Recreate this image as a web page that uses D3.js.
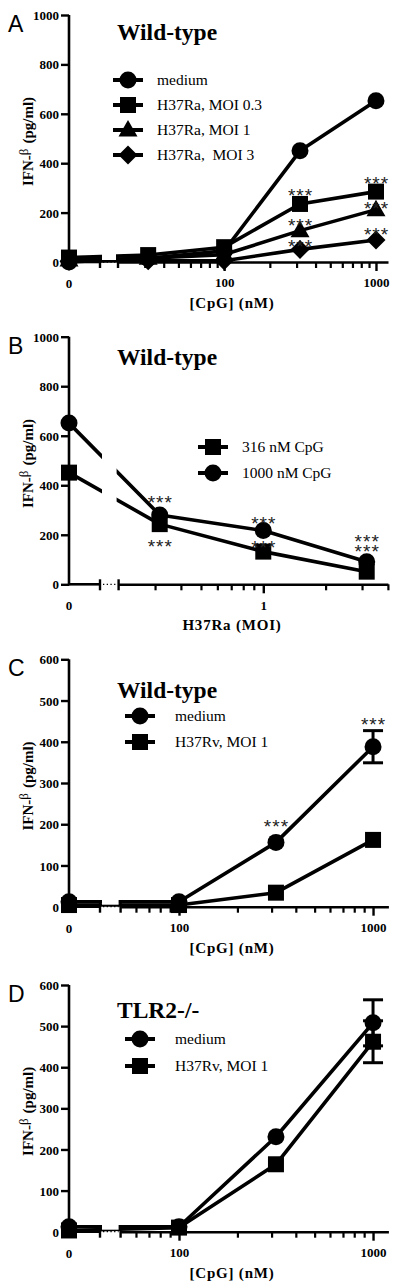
<!DOCTYPE html>
<html><head><meta charset="utf-8">
<script src="https://cdn.jsdelivr.net/npm/d3@7"></script>
<style>
html,body{margin:0;padding:0;background:#fff;}
svg{display:block;}
</style></head>
<body>
<svg id="chart" width="400" height="1288"></svg>
<script>
// ---------- DATA ----------
// Panel A: IFN-beta vs CpG (nM), wild-type, H37Ra at several MOI
const aX = [0, 31.6, 100, 316, 1000];
const aMedium = [0, 15, 45, 450, 653];
const aMoi03 = [18, 28, 60, 235, 285];
const aMoi1 = [8, 15, 30, 127, 212];
const aMoi3 = [3, 5, 5, 51, 89];
const aStarX = [316, 1000, 316, 1000, 316, 1000];
const aStarY = [287, 338, 166, 236, 81, 130];
const aLegend = ["medium", "H37Ra, MOI 0.3", "H37Ra, MOI 1", "H37Ra,  MOI 3"];

// Panel B: IFN-beta vs H37Ra MOI
const bX = [0, 0.316, 1, 3.16];
const b316 = [451, 243, 132, 51];
const b1000 = [651, 280, 217, 91];
const bStarX = [0.316, 0.316, 1, 1, 3.16];
const bStarY = [350, 172, 264, 165, 193];
const bStarRows = [1, 1, 1, 1, 2];
const bLegend = ["316 nM CpG", "1000 nM CpG"];

// Panel C: wild-type, H37Rv
const cX = [0, 100, 316, 1000];
const cMedium = [12, 12, 156, 388];
const cMediumErr = [0, 0, 0, 39];
const cRv = [4, 4, 34, 162];
const cRvErr = [0, 0, 0, 0];
const cStarX = [316, 1000];
const cStarY = [205, 453];

// Panel D: TLR2-/-, H37Rv
const dX = [0, 100, 316, 1000];
const dMedium = [12, 12, 231, 508];
const dMediumErr = [0, 0, 0, 56];
const dRv = [3, 10, 164, 462];
const dRvErr = [0, 0, 0, 51];
const cdLegend = ["medium", "H37Rv, MOI 1"];

const yTicksA = [0, 200, 400, 600, 800, 1000];
const yTicksC = [0, 100, 200, 300, 400, 500, 600];

// ---------- DRAWING ----------
const svg = d3.select("#chart");
const SERIF = "'Liberation Serif','Times New Roman',serif";
const SANS = "'Liberation Sans',Arial,sans-serif";
const AXIS_X = 69;

function markerPath(shape) {
  if (shape === "circle") return d3.symbol(d3.symbolCircle, Math.PI * 8.5 * 8.5)();
  if (shape === "square") return "M-8,-8H8V8H-8Z";
  if (shape === "triangle") return "M0,-10L9.5,6.5L-9.5,6.5Z";
  if (shape === "diamond") return "M0,-9.5L9.5,0L0,9.5L-9.5,0Z";
}

function panel(cfg, idx) {
  const g = svg.append("g");
  const y = d3.scaleLinear().domain(cfg.yDomain).range([cfg.y0, cfg.yTop]);
  const xLin = d3.scaleLinear().domain([0, 1]).range([AXIS_X, 100]);
  const xLog = d3.scaleLog().domain(cfg.logDomain).range(cfg.logRange);
  const xp = v => v === 0 ? xLin(0) : xLog(v);

  // mask to break lines at the axis break
  const maskId = "gap" + idx;
  const mask = svg.append("defs").append("mask").attr("id", maskId)
    .attr("maskUnits", "userSpaceOnUse").attr("x", 0).attr("y", 0).attr("width", 400).attr("height", 1288);
  mask.append("rect").attr("x", 0).attr("y", 0).attr("width", 400).attr("height", 1288).attr("fill", "#fff");
  mask.append("rect").attr("x", 102).attr("y", cfg.yTop - 20).attr("width", xLog.range()[0] - 104)
    .attr("height", cfg.y0 - cfg.yTop + 18).attr("fill", "#000");

  // lines
  const line = d3.line().x(d => xp(d.x)).y(d => y(d.y));
  const lg = g.append("g").attr("mask", `url(#${maskId})`);
  cfg.series.forEach(s => {
    const pts = cfg.x.map((xv, i) => ({ x: xv, y: s.values[i] }));
    lg.append("path").attr("d", line(pts)).attr("fill", "none")
      .attr("stroke", "#000").attr("stroke-width", 3.6).attr("stroke-linejoin", "round");
  });

  // error bars
  cfg.series.forEach(s => {
    if (!s.err) return;
    cfg.x.forEach((xv, i) => {
      const e = s.err[i];
      if (!e) return;
      const cx = xp(xv);
      g.append("line").attr("x1", cx).attr("x2", cx).attr("y1", y(s.values[i] - e)).attr("y2", y(s.values[i] + e))
        .attr("stroke", "#000").attr("stroke-width", 3);
      [s.values[i] - e, s.values[i] + e].forEach(v => {
        g.append("line").attr("x1", cx - 10).attr("x2", cx + 10).attr("y1", y(v)).attr("y2", y(v))
          .attr("stroke", "#000").attr("stroke-width", 3);
      });
    });
  });

  // markers (drawn in reverse so first series is on top)
  cfg.series.slice().reverse().forEach(s => {
    cfg.x.forEach((xv, i) => {
      g.append("path").attr("d", markerPath(s.shape))
        .attr("transform", `translate(${xp(xv)},${y(s.values[i])})`).attr("fill", "#000");
    });
  });

  // stars
  cfg.starX.forEach((sx, i) => {
    const rows = cfg.starRows ? cfg.starRows[i] : 1;
    const t = g.append("text").attr("x", xp(sx)).attr("y", y(cfg.starY[i]) + 11)
      .attr("text-anchor", "middle").attr("font-family", SANS).attr("font-size", 19)
      .attr("letter-spacing", 1).attr("fill", "#222");
    for (let r = 0; r < rows; r++) {
      t.append("tspan").attr("x", xp(sx) + 0.5).attr("dy", r === 0 ? 0 : 10).text("***");
    }
  });

  // y axis
  const yAxis = d3.axisLeft(y).tickValues(cfg.yTicks).tickSize(8).tickSizeOuter(0).tickPadding(2)
    .tickFormat(d3.format("d"));
  const ya = g.append("g").attr("transform", `translate(${AXIS_X},0)`).call(yAxis);
  ya.attr("font-family", SERIF);
  ya.select(".domain").attr("stroke-width", 2.6).attr("d", `M0,${cfg.yTop}V${cfg.y0 + 1}`);
  ya.selectAll(".tick line").attr("stroke-width", 2.4);
  ya.selectAll(".tick text").attr("font-family", SERIF).attr("font-weight", "bold")
    .attr("font-size", 13).attr("dy", "0.35em");

  // x axis: linear segment
  g.append("line").attr("x1", AXIS_X).attr("x2", 100).attr("y1", cfg.y0).attr("y2", cfg.y0)
    .attr("stroke", "#000").attr("stroke-width", 2.6);
  g.append("line").attr("x1", 100).attr("x2", 100).attr("y1", cfg.y0 - 5).attr("y2", cfg.y0 + 6)
    .attr("stroke", "#000").attr("stroke-width", 2.4);
  g.append("line").attr("x1", 103).attr("x2", xLog.range()[0] - 2).attr("y1", cfg.y0).attr("y2", cfg.y0)
    .attr("stroke", "#000").attr("stroke-width", 1.3).attr("stroke-dasharray", "1.3,2.4");
  // log segment
  const xa = d3.axisBottom(xLog).tickValues(cfg.minorTicks).tickSize(6).tickFormat("").tickSizeOuter(0);
  const xg = g.append("g").attr("transform", `translate(0,${cfg.y0})`).call(xa);
  xg.select(".domain").attr("stroke-width", 2.6);
  xg.selectAll(".tick line").attr("stroke-width", 2.2);
  const xaMaj = d3.axisBottom(xLog).tickValues(cfg.majorTicks).tickSize(9).tickFormat(d3.format("d")).tickSizeOuter(0);
  const xgM = g.append("g").attr("transform", `translate(0,${cfg.y0})`).call(xaMaj);
  xgM.attr("font-family", SERIF);
  xgM.select(".domain").remove();
  xgM.selectAll(".tick line").attr("stroke-width", 2.4);
  xgM.selectAll(".tick text").attr("font-family", SERIF).attr("font-weight", "bold")
    .attr("font-size", 13).attr("y", 16).attr("dy", "0.71em");
  g.append("line").attr("x1", xLog.range()[0]).attr("x2", xLog.range()[0])
    .attr("y1", cfg.y0 - 5).attr("y2", cfg.y0 + 6).attr("stroke", "#000").attr("stroke-width", 2.4);
  g.append("text").attr("x", AXIS_X).attr("y", cfg.y0 + 26).attr("text-anchor", "middle")
    .attr("font-family", SERIF).attr("font-weight", "bold").attr("font-size", 13).text("0");

  // axis titles
  g.append("text").attr("x", 232).attr("y", cfg.y0 + 46).attr("text-anchor", "middle")
    .attr("font-family", SERIF).attr("font-weight", "bold").attr("font-size", 15)
    .attr("letter-spacing", 0.8).text(cfg.xTitle);
  const yt = g.append("text").attr("transform", `translate(33,${(cfg.y0 + cfg.yTop) / 2 + 3}) rotate(-90)`)
    .attr("text-anchor", "middle").attr("font-family", SERIF).attr("font-size", 15).attr("font-weight", "bold");
  yt.append("tspan").text("IFN-");
  yt.append("tspan").attr("font-weight", "normal").attr("font-size", 13).attr("dy", -5).text("β");
  yt.append("tspan").attr("dy", 5).attr("dx", 5).text("(pg/ml)");

  // panel letter & title
  g.append("text").attr("x", 8).attr("y", cfg.yTop + 17).attr("font-family", SANS)
    .attr("font-size", 23).text(cfg.letter);
  g.append("text").attr("x", 117).attr("y", cfg.titleY).attr("font-family", SERIF)
    .attr("font-weight", "bold").attr("font-size", 23.5).text(cfg.title);

  // legend
  cfg.legend.forEach((lab, i) => {
    const ly = cfg.legY + i * cfg.legStep;
    g.append("line").attr("x1", cfg.legX - 15).attr("x2", cfg.legX + 15).attr("y1", ly).attr("y2", ly)
      .attr("stroke", "#000").attr("stroke-width", 4);
    g.append("path").attr("d", markerPath(cfg.legShapes[i])).attr("transform", `translate(${cfg.legX},${ly})`);
    g.append("text").attr("x", cfg.legTextX).attr("y", ly + 5).attr("font-family", SERIF)
      .attr("font-size", 15.5).attr("xml:space", "preserve").style("white-space", "pre").text(lab);
  });
}

panel({
  letter: "A", title: "Wild-type", titleY: 40,
  yDomain: [0, 1000], y0: 262, yTop: 15, yTicks: yTicksA,
  logDomain: [20, 1200], logRange: [118, 388],
  minorTicks: [30, 40, 50, 60, 70, 80, 90, 200, 300, 400, 500, 600, 700, 800, 900],
  majorTicks: [100, 1000],
  x: aX,
  series: [
    { values: aMedium, shape: "circle" },
    { values: aMoi03, shape: "square" },
    { values: aMoi1, shape: "triangle" },
    { values: aMoi3, shape: "diamond" }
  ],
  starX: aStarX, starY: aStarY,
  xTitle: "[CpG] (nM)",
  legend: aLegend, legShapes: ["circle", "square", "triangle", "diamond"],
  legX: 128, legTextX: 157, legY: 80, legStep: 25
}, 0);

panel({
  letter: "B", title: "Wild-type", titleY: 365,
  yDomain: [0, 1000], y0: 584.3, yTop: 336.7, yTicks: yTicksA,
  logDomain: [0.2, 4], logRange: [118.6, 387.9],
  minorTicks: [0.3, 0.4, 0.5, 0.6, 0.7, 0.8, 0.9, 2, 3, 4],
  majorTicks: [1],
  x: bX,
  series: [
    { values: b1000, shape: "circle" },
    { values: b316, shape: "square" }
  ],
  starX: bStarX, starY: bStarY, starRows: bStarRows,
  xTitle: "H37Ra (MOI)",
  legend: bLegend, legShapes: ["square", "circle"],
  legX: 213, legTextX: 242, legY: 447, legStep: 26
}, 1);

panel({
  letter: "C", title: "Wild-type", titleY: 698,
  yDomain: [0, 600], y0: 906.7, yTop: 659.3, yTicks: yTicksC,
  logDomain: [50, 1200], logRange: [120.6, 388.4],
  minorTicks: [60, 70, 80, 90, 200, 300, 400, 500, 600, 700, 800, 900],
  majorTicks: [100, 1000],
  x: cX,
  series: [
    { values: cMedium, err: cMediumErr, shape: "circle" },
    { values: cRv, err: cRvErr, shape: "square" }
  ],
  starX: cStarX, starY: cStarY,
  xTitle: "[CpG] (nM)",
  legend: cdLegend, legShapes: ["circle", "square"],
  legX: 140, legTextX: 175, legY: 716, legStep: 26
}, 2);

panel({
  letter: "D", title: "TLR2-/-", titleY: 1018,
  yDomain: [0, 600], y0: 1231.7, yTop: 985, yTicks: yTicksC,
  logDomain: [50, 1200], logRange: [120.6, 388.4],
  minorTicks: [60, 70, 80, 90, 200, 300, 400, 500, 600, 700, 800, 900],
  majorTicks: [100, 1000],
  x: dX,
  series: [
    { values: dMedium, err: dMediumErr, shape: "circle" },
    { values: dRv, err: dRvErr, shape: "square" }
  ],
  starX: [], starY: [],
  xTitle: "[CpG] (nM)",
  legend: cdLegend, legShapes: ["circle", "square"],
  legX: 140, legTextX: 175, legY: 1039, legStep: 27
}, 3);
</script>
</body></html>
